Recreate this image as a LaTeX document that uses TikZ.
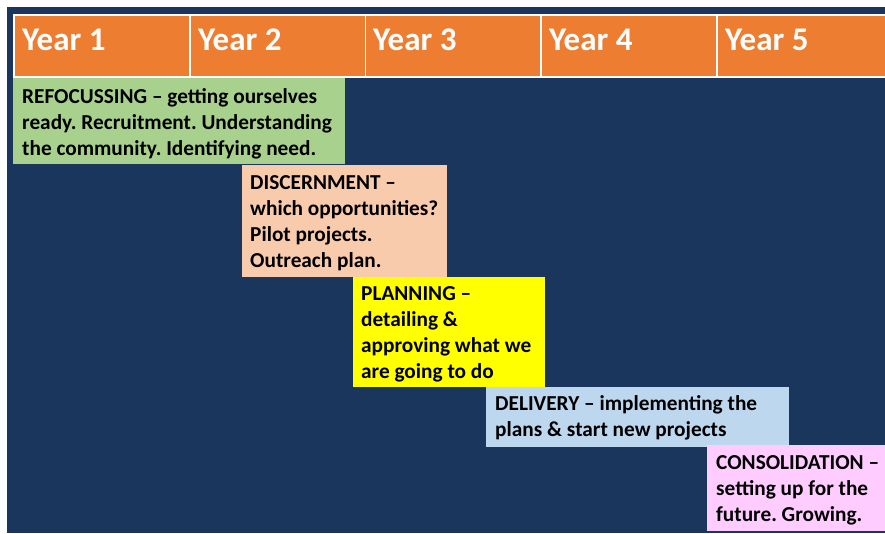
\documentclass[tikz,border=0pt]{standalone}
\usepackage{fontspec}
\setmainfont{Carlito}
\frenchspacing
\definecolor{navy}{HTML}{1B365D}
\definecolor{hdr}{HTML}{ED7D31}
\definecolor{cgreen}{HTML}{A9D18E}
\definecolor{cpeach}{HTML}{F8CBAD}
\definecolor{cyellow}{HTML}{FFFF00}
\definecolor{cblue}{HTML}{BDD7EE}
\definecolor{cpink}{HTML}{FFCCFF}
\begin{document}
\begin{tikzpicture}[x=1pt,y=-1pt,
  cell/.style={fill=hdr,draw=white,line width=1.5pt,anchor=north west,minimum width=176pt,minimum height=62pt,inner sep=0pt},
  yeartxt/.style={anchor=base west,inner sep=0pt,text=white,font=\fontsize{33}{38}\selectfont\bfseries\frenchspacing},
  phase/.style={anchor=north west,inner sep=0pt,draw=none},
  ptxt/.style={anchor=base west,inner sep=0pt,align=left,text=black,font=\fontsize{21.3}{26}\selectfont\bfseries\frenchspacing}]
\fill[white] (0,0) rectangle (885,533);
\useasboundingbox (0,0) rectangle (885,533);
\clip (0,0) rectangle (885,533);
\fill[navy] (7,7) rectangle (885,533);
% header
\node[cell] (c1) at (13,14) {};
\node[cell] (c2) at (189,14) {};
\node[cell] (c3) at (364.5,14) {};
\node[cell] (c4) at (540,14) {};
\node[cell] (c5) at (716,14) {};
\node[yeartxt] (t1) at (22,50) {Year 1};
\node[yeartxt] (t2) at (198,50) {Year 2};
\node[yeartxt] (t3) at (373,50) {Year 3};
\node[yeartxt] (t4) at (549,50) {Year 4};
\node[yeartxt] (t5) at (725,50) {Year 5};
% phases
\node[phase,fill=cgreen,minimum width=332pt,minimum height=86pt] (b1) at (13,78) {};
\node[phase,fill=cpeach,minimum width=205pt,minimum height=112pt] (b2) at (242,165) {};
\node[phase,fill=cyellow,minimum width=192pt,minimum height=110pt] (b3) at (353,277) {};
\node[phase,fill=cblue,minimum width=303pt,minimum height=60pt] (b4) at (486,387) {};
\node[phase,fill=cpink,minimum width=178pt,minimum height=86pt] (b5) at (707,445) {};
% text nodes: base anchor is the baseline of the last line
\node[ptxt] (p1) at (22,155) {REFOCUSSING -- getting ourselves\\ready. Recruitment. Understanding\\the community. Identifying need.};
\node[ptxt] (p2) at (250,267) {DISCERNMENT --\\which opportunities?\\Pilot projects.\\Outreach plan.};
\node[ptxt] (p3) at (361,378) {PLANNING --\\detailing \&\\approving what we\\are going to do};
\node[ptxt] (p4) at (495,436) {DELIVERY -- implementing the\\plans \& start new projects};
\node[ptxt] (p5) at (716,521) {CONSOLIDATION --\\setting up for the\\future. Growing.};
\end{tikzpicture}
\end{document}
